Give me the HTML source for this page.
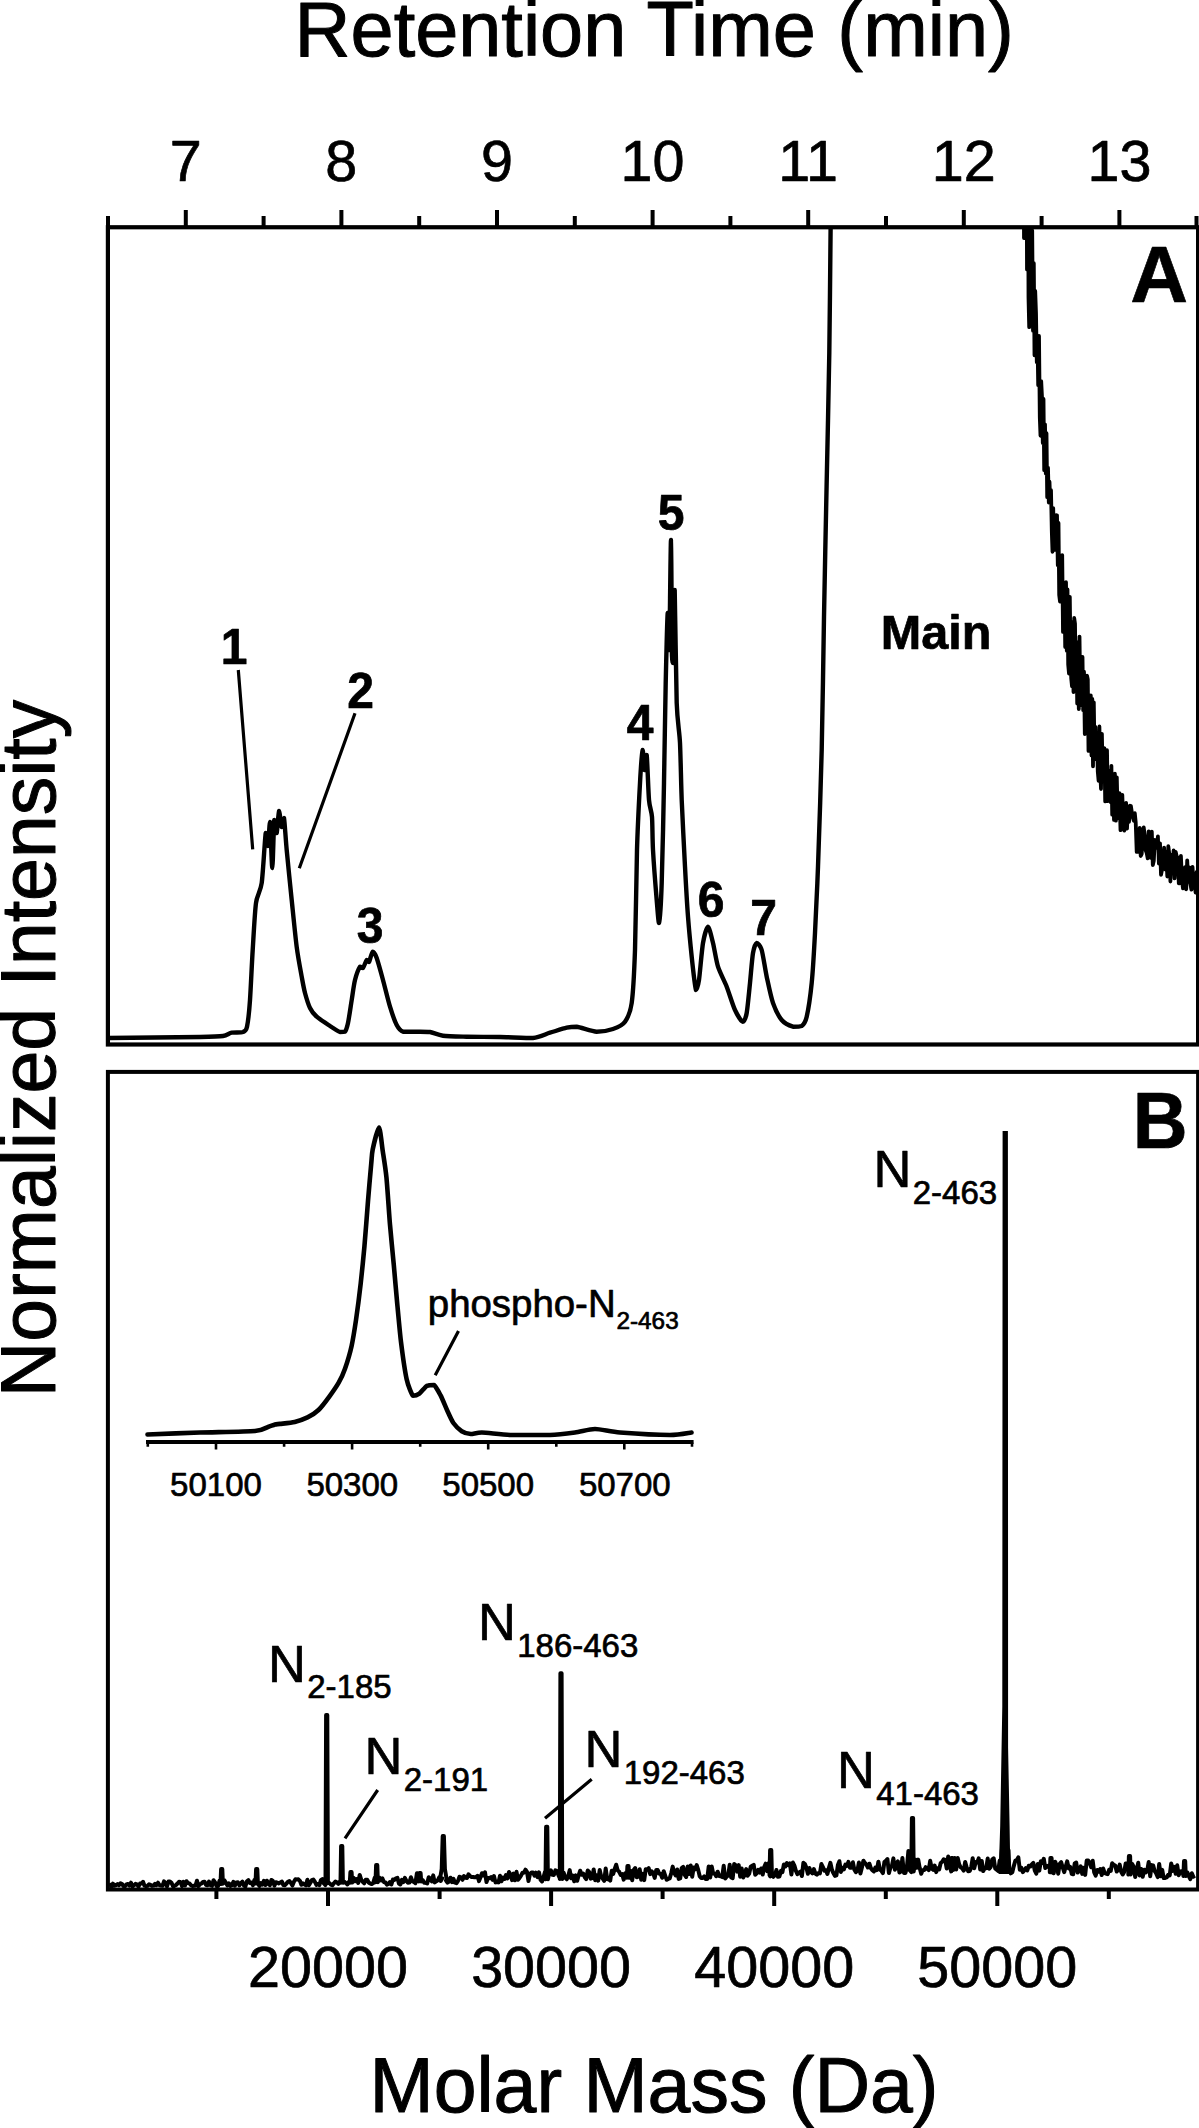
<!DOCTYPE html>
<html lang="en"><head><meta charset="utf-8"><title>Figure</title>
<style>html,body{margin:0;padding:0;background:#fff}body{width:1199px;height:2128px;overflow:hidden}svg{display:block}text{font-family:"Liberation Sans",sans-serif;fill:#000;stroke:#000;stroke-width:0.7px;stroke-linejoin:round}.big{stroke-width:1px}.b{font-weight:bold}</style></head><body>
<svg width="1199" height="2128" viewBox="0 0 1199 2128">
<rect width="1199" height="2128" fill="#fff"/>
<text class="big" x="654.2" y="56" font-size="77.5" text-anchor="middle">Retention Time (min)</text>
<text class="big" x="654" y="2111.5" font-size="77" text-anchor="middle">Molar Mass (Da)</text>
<text class="big" transform="translate(55,1048.5) rotate(-90)" font-size="77" text-anchor="middle">Normalized Intensity</text>
<text x="185.7" y="181" font-size="57.5" text-anchor="middle">7</text>
<text x="341.3" y="181" font-size="57.5" text-anchor="middle">8</text>
<text x="497.0" y="181" font-size="57.5" text-anchor="middle">9</text>
<text x="652.6" y="181" font-size="57.5" text-anchor="middle">10</text>
<text x="808.2" y="181" font-size="57.5" text-anchor="middle">11</text>
<text x="963.8" y="181" font-size="57.5" text-anchor="middle">12</text>
<text x="1119.5" y="181" font-size="57.5" text-anchor="middle">13</text>
<path d="M108.0,216V227 M185.8,210V227 M263.6,216V227 M341.4,210V227 M419.2,216V227 M497.0,210V227 M574.8,216V227 M652.6,210V227 M730.4,216V227 M808.2,210V227 M886.0,216V227 M963.8,210V227 M1041.6,216V227 M1119.4,210V227 M1196.5,216V227" stroke="#000" stroke-width="4" fill="none"/>
<rect x="107.9" y="227.25" width="1090.2" height="817.25" fill="none" stroke="#000" stroke-width="4.2"/>
<rect x="107.9" y="1071.9" width="1090.2" height="817.6" fill="none" stroke="#000" stroke-width="4"/>
<path d="M216.4,1889V1899 M328.0,1889V1906 M439.6,1889V1899 M551.1,1889V1906 M662.6,1889V1899 M774.2,1889V1906 M885.8,1889V1899 M997.3,1889V1906 M1108.8,1889V1899" stroke="#000" stroke-width="4" fill="none"/>
<text x="328.0" y="1986.5" font-size="57.5" text-anchor="middle">20000</text>
<text x="551.1" y="1986.5" font-size="57.5" text-anchor="middle">30000</text>
<text x="774.2" y="1986.5" font-size="57.5" text-anchor="middle">40000</text>
<text x="997.3" y="1986.5" font-size="57.5" text-anchor="middle">50000</text>
<clipPath id="ca"><rect x="108" y="227" width="1089" height="817"/></clipPath>
<g clip-path="url(#ca)" fill="none" stroke="#000" stroke-linejoin="round" stroke-linecap="round"><path d="M108.0,1038.0C120.0,1037.9 185.1,1037.3 200.0,1037.0C214.9,1036.7 218.9,1036.6 223.0,1036.0C227.1,1035.4 229.1,1033.2 231.7,1032.7C234.3,1032.2 241.0,1032.7 243.0,1032.0C245.0,1031.2 246.1,1030.9 247.0,1026.7C247.9,1022.5 249.3,1010.0 250.0,1000.0C250.7,990.0 251.9,962.6 252.7,950.0C253.5,937.4 254.8,911.7 256.0,903.0C257.2,894.3 260.4,892.1 261.7,883.0C263.0,873.9 264.9,837.8 265.7,833.0C266.5,833.0 267.4,846.0 268.0,846.0C268.6,844.6 269.4,822.0 270.0,822.0C270.6,824.9 271.7,868.0 272.3,868.0C272.9,867.7 273.7,824.5 274.3,820.0C274.9,820.0 276.1,833.0 276.7,833.0C277.3,831.8 278.4,811.8 279.0,811.0C279.6,811.0 281.1,826.1 281.7,827.0C282.3,827.0 283.4,818.0 284.0,818.0C284.6,821.0 285.7,839.3 286.7,850.0C287.7,860.7 290.4,887.4 291.7,900.0C293.0,912.6 295.4,937.0 296.7,947.0C298.0,957.0 300.6,970.7 301.7,976.7C302.8,982.7 303.9,988.9 305.0,993.0C306.1,997.1 308.5,1004.9 310.0,1008.0C311.5,1011.1 314.1,1014.4 316.7,1016.7C319.3,1019.0 327.0,1024.0 330.0,1026.0C333.0,1028.0 338.1,1031.3 340.0,1032.0C341.9,1032.0 344.0,1032.0 345.0,1031.7C346.0,1030.5 347.1,1027.1 348.0,1023.0C348.9,1018.9 350.8,1005.6 351.7,1000.0C352.6,994.4 353.9,984.3 355.0,980.0C356.1,975.7 359.0,968.3 360.0,966.7C361.0,966.7 362.1,968.0 363.0,968.0C363.9,967.1 365.9,960.8 366.7,960.0C367.5,960.0 368.2,962.0 369.0,962.0C369.8,960.9 371.7,952.2 372.7,951.7C373.7,951.7 375.4,954.3 376.7,958.0C378.0,961.7 381.3,973.7 383.0,980.0C384.7,986.3 388.2,1000.9 390.0,1006.7C391.8,1012.6 395.0,1021.8 396.7,1025.0C398.4,1028.2 400.0,1030.8 403.0,1031.7C406.0,1031.7 416.5,1031.7 420.0,1031.7C423.5,1031.7 427.0,1031.7 430.0,1032.0C433.0,1032.5 438.2,1035.1 443.0,1035.7C447.8,1036.3 459.3,1036.5 466.7,1036.7C474.1,1036.9 491.4,1036.8 500.0,1037.0C508.6,1037.2 526.5,1038.0 533.0,1038.0C539.5,1037.4 545.6,1034.0 550.0,1032.7C554.4,1031.4 563.2,1028.5 566.7,1027.7C570.2,1026.9 572.8,1026.7 576.7,1026.7C580.6,1027.2 592.0,1031.4 596.7,1031.7C601.4,1031.7 609.3,1030.3 613.0,1029.0C616.7,1027.7 622.6,1025.1 625.0,1021.7C627.4,1018.3 630.4,1012.3 631.7,1003.0C633.0,993.7 634.3,969.9 635.0,950.0C635.7,930.1 636.4,871.7 637.0,850.0C637.6,828.3 639.3,796.0 640.0,783.0C640.7,770.0 642.1,751.7 642.7,750.0C643.3,750.0 644.0,769.4 644.5,770.0C645.0,770.0 646.1,755.0 646.7,755.0C647.3,758.9 648.3,791.9 649.0,800.0C649.7,808.1 651.5,810.5 652.0,817.0C652.5,823.5 652.4,839.2 653.0,850.0C653.6,860.8 655.9,890.5 656.7,900.0C657.5,909.5 658.4,923.0 659.0,923.0C659.6,920.8 661.1,901.2 661.7,883.0C662.4,864.8 663.5,809.0 664.0,783.0C664.5,757.0 665.2,705.1 665.7,683.0C666.2,660.9 667.2,617.3 667.7,613.0C668.2,613.0 668.9,650.0 669.3,650.0C669.7,640.5 670.6,540.0 671.0,540.0C671.4,540.8 671.7,640.0 672.0,656.0C672.3,663.0 672.9,663.0 673.3,663.0C673.7,654.4 674.3,590.0 674.7,590.0C675.1,595.2 676.0,683.1 676.7,703.0C677.4,722.9 679.4,730.4 680.0,743.0C680.6,755.6 681.1,783.9 681.7,800.0C682.4,816.1 684.2,851.5 685.0,866.7C685.8,881.9 687.1,905.0 688.0,916.7C688.9,928.4 690.7,947.2 691.7,956.7C692.7,966.2 695.1,987.0 696.0,990.0C696.9,990.0 698.1,986.1 699.0,980.0C699.9,973.9 701.8,949.9 703.0,943.0C704.2,936.1 706.7,926.7 708.0,926.7C709.3,926.7 711.7,937.8 713.0,943.0C714.3,948.2 716.2,961.0 718.0,966.7C719.8,972.4 724.5,981.1 726.7,986.7C728.9,992.3 732.9,1005.5 735.0,1010.0C737.1,1014.5 741.2,1021.3 742.7,1021.7C744.2,1021.7 745.8,1018.0 746.7,1013.0C747.6,1008.0 749.2,990.8 750.0,983.0C750.8,975.2 752.1,958.2 753.0,953.0C753.9,947.8 755.6,943.4 756.7,943.0C757.8,943.0 760.4,945.6 761.7,950.0C763.0,954.4 765.2,969.8 766.7,976.7C768.2,983.6 771.0,997.4 773.0,1003.0C775.0,1008.6 779.1,1016.9 781.7,1020.0C784.3,1023.1 790.4,1025.9 793.0,1026.7C795.6,1026.7 799.9,1026.7 801.7,1026.0C803.5,1024.7 805.4,1022.3 806.7,1016.7C808.0,1011.1 810.6,993.9 811.7,983.0C812.8,972.1 814.2,948.1 815.0,933.0C815.8,917.9 817.1,890.5 818.0,866.7C818.9,842.9 820.9,782.5 821.7,750.0C822.5,717.5 823.4,651.0 824.0,616.7C824.6,582.4 825.9,520.3 826.6,486.0C827.3,451.7 828.8,386.4 829.3,353.0C829.8,319.6 830.4,245.1 830.6,229.0" stroke-width="4.4"/><path d="M1018.0,-111.5 L1018.8,101.9 L1019.5,-178.5 L1020.2,77.2 L1021.0,97.1 L1021.8,-115.7 L1022.5,151.7 L1023.2,15.6 L1024.0,238.0 L1024.8,-3.6 L1025.5,184.1 L1026.2,28.9 L1027.0,269.6 L1027.8,54.3 L1028.5,297.3 L1029.2,327.1 L1030.0,282.0 L1030.8,197.1 L1031.5,322.3 L1032.2,230.5 L1033.0,330.8 L1033.8,263.2 L1034.5,355.3 L1035.2,290.8 L1036.0,313.4 L1036.8,362.2 L1037.5,339.4 L1038.2,385.1 L1039.0,335.9 L1039.8,417.4 L1040.5,435.8 L1041.2,381.2 L1042.0,397.0 L1042.8,443.0 L1043.5,399.0 L1044.2,470.2 L1045.0,424.3 L1045.8,473.5 L1046.5,433.2 L1047.2,497.2 L1048.0,467.7 L1048.8,502.5 L1049.5,481.7 L1050.2,502.3 L1051.0,490.2 L1051.8,531.1 L1052.5,551.8 L1053.2,508.1 L1054.0,543.0 L1054.8,519.0 L1055.5,549.9 L1056.2,515.2 L1057.0,515.3 L1057.8,565.1 L1058.5,522.9 L1059.2,595.1 L1060.0,601.6 L1060.8,556.0 L1061.5,581.9 L1062.2,555.1 L1063.0,631.9 L1063.8,620.9 L1064.5,585.3 L1065.2,647.1 L1066.0,582.2 L1066.8,650.8 L1067.5,589.5 L1068.2,664.7 L1069.0,673.7 L1069.8,596.8 L1070.5,655.7 L1071.2,678.2 L1072.0,686.3 L1072.8,622.0 L1073.5,692.1 L1074.2,617.9 L1075.0,623.8 L1075.8,681.4 L1076.5,645.2 L1077.2,703.6 L1078.0,642.1 L1078.8,709.0 L1079.5,636.6 L1080.2,689.8 L1081.0,657.7 L1081.8,705.3 L1082.5,657.0 L1083.2,710.1 L1084.0,671.7 L1084.8,734.1 L1085.5,679.2 L1086.2,729.1 L1087.0,675.7 L1087.8,679.5 L1088.5,750.9 L1089.2,705.9 L1090.0,738.7 L1090.8,695.4 L1091.5,755.4 L1092.3,698.9 L1093.0,766.3 L1093.8,702.3 L1094.6,759.1 L1095.4,727.0 L1096.2,755.0 L1096.9,737.1 L1097.8,771.9 L1098.6,780.9 L1099.4,726.5 L1100.2,771.3 L1101.0,789.0 L1101.9,733.9 L1102.7,777.6 L1103.5,750.1 L1104.4,748.2 L1105.2,801.4 L1106.1,795.1 L1107.0,750.2 L1107.8,801.1 L1108.7,770.7 L1109.6,800.4 L1110.5,801.9 L1111.4,765.8 L1112.2,814.6 L1113.1,775.8 L1114.0,819.9 L1114.9,773.7 L1115.9,820.6 L1116.8,777.3 L1117.7,818.1 L1118.6,793.9 L1119.5,793.2 L1120.5,830.2 L1121.4,821.6 L1122.3,794.8 L1123.3,824.2 L1124.2,830.6 L1125.1,827.8 L1126.1,802.8 L1127.0,828.6 L1128.0,807.9 L1129.0,821.8 L1129.9,805.7 L1130.9,806.1 L1131.8,812.1 L1132.8,817.5 L1133.8,820.7 L1134.8,813.2 L1135.7,822.3 L1136.7,851.9 L1137.7,849.2 L1138.7,851.8 L1139.7,827.8 L1140.7,856.0 L1141.7,853.9 L1142.7,833.3 L1143.7,827.3 L1144.7,834.9 L1145.7,850.3 L1146.7,853.2 L1147.7,858.3 L1148.7,831.3 L1149.7,832.9 L1150.7,857.8 L1151.8,831.6 L1152.8,865.0 L1153.8,860.7 L1154.8,840.0 L1155.9,844.5 L1156.9,847.8 L1157.9,836.3 L1158.9,863.7 L1160.0,843.3 L1161.0,874.8 L1162.0,869.9 L1163.1,867.1 L1164.1,847.7 L1165.2,869.5 L1166.2,851.9 L1167.3,876.5 L1168.3,846.2 L1169.4,854.8 L1170.4,881.5 L1171.5,854.8 L1172.5,872.2 L1173.6,850.5 L1174.6,878.4 L1175.7,851.8 L1176.7,856.3 L1177.8,858.0 L1178.8,883.4 L1179.9,882.9 L1180.9,855.8 L1182.0,880.7 L1183.0,888.4 L1184.1,881.4 L1185.1,867.2 L1186.2,889.3 L1187.2,860.3 L1188.3,881.8 L1189.3,867.5 L1190.4,883.9 L1191.4,889.7 L1192.5,866.9 L1193.5,883.0 L1194.6,884.1 L1195.6,892.5 L1196.7,871.8 L1197.7,894.2 L1198.8,878.4" stroke-width="3.8"/></g>
<path d="M238.3,670L252.7,849.3M355,713.3L299.3,868.3" stroke="#000" stroke-width="3.2" fill="none"/>
<text class="b" transform="translate(234,663.5) scale(1,1.06)" font-size="48" text-anchor="middle">1</text>
<text class="b" transform="translate(360.5,707.5) scale(1,1.06)" font-size="48" text-anchor="middle">2</text>
<text class="b" transform="translate(370,942.5) scale(1,1.06)" font-size="48" text-anchor="middle">3</text>
<text class="b" transform="translate(640,739.5) scale(1,1.06)" font-size="48" text-anchor="middle">4</text>
<text class="b" transform="translate(671,529.7) scale(1,1.06)" font-size="48" text-anchor="middle">5</text>
<text class="b" transform="translate(711,916.5) scale(1,1.06)" font-size="48" text-anchor="middle">6</text>
<text class="b" transform="translate(763.5,934.5) scale(1,1.06)" font-size="48" text-anchor="middle">7</text>
<text class="b" transform="translate(936.1,648.5) scale(1,1.0)" font-size="48.6" text-anchor="middle">Main</text>
<text class="b" transform="translate(1159.2,302.4) scale(1,1.0)" font-size="80" text-anchor="middle">A</text>
<text class="b" transform="translate(1160.1,1147.6) scale(1,1.055)" font-size="76" text-anchor="middle">B</text>
<clipPath id="cb"><rect x="108" y="1071" width="1089" height="818"/></clipPath>
<g clip-path="url(#cb)" fill="none" stroke="#000" stroke-linejoin="round"><path d="M110.0,1883.0 L111.5,1886.9 L113.0,1883.7 L114.5,1885.8 L116.0,1885.1 L117.5,1884.0 L119.0,1885.3 L120.5,1883.2 L122.0,1884.0 L123.5,1886.2 L125.0,1886.2 L126.5,1884.4 L128.0,1883.9 L129.5,1885.6 L131.0,1882.7 L132.5,1886.5 L134.0,1885.3 L135.5,1883.8 L137.0,1884.3 L138.5,1886.6 L140.0,1883.5 L141.5,1883.4 L143.0,1881.8 L144.5,1885.7 L146.0,1886.2 L147.5,1885.9 L149.0,1884.2 L150.5,1884.9 L152.0,1885.9 L153.5,1885.6 L155.0,1883.8 L156.5,1885.2 L158.0,1882.7 L159.5,1885.1 L161.0,1885.6 L162.5,1885.8 L164.0,1881.4 L165.5,1882.9 L167.0,1886.5 L168.5,1881.6 L170.0,1881.6 L171.5,1882.8 L173.0,1886.1 L174.5,1885.9 L176.0,1885.0 L177.5,1883.5 L179.0,1881.8 L180.5,1881.9 L182.0,1886.2 L183.5,1881.9 L185.0,1885.5 L186.5,1881.2 L188.0,1883.1 L189.5,1883.4 L191.0,1885.3 L192.5,1886.0 L194.0,1885.8 L195.5,1885.6 L197.0,1880.7 L198.5,1886.1 L200.0,1884.2 L201.5,1883.5 L203.0,1882.0 L204.5,1881.7 L206.0,1885.0 L207.5,1885.2 L209.0,1881.6 L210.5,1885.1 L212.0,1885.8 L213.5,1880.3 L215.0,1882.2 L216.5,1886.0 L218.0,1886.1 L219.5,1880.9 L221.0,1884.0 L220.5,1883.7 L221.1,1869.0 L222.3,1869.0 L222.9,1883.7 L224.4,1880.4 L225.9,1882.8 L227.4,1885.4 L228.9,1883.3 L230.4,1886.0 L231.9,1885.3 L233.4,1881.8 L234.9,1885.7 L236.4,1882.4 L237.9,1882.3 L239.4,1885.3 L240.9,1883.1 L242.4,1881.6 L243.9,1885.6 L245.4,1886.5 L246.9,1881.3 L248.4,1880.2 L249.9,1883.0 L251.4,1882.6 L252.9,1885.3 L254.4,1880.1 L255.9,1881.8 L255.5,1883.5 L256.1,1869.0 L257.3,1869.0 L257.9,1883.5 L259.4,1886.0 L260.9,1883.1 L262.4,1884.6 L263.9,1880.8 L265.4,1885.0 L266.9,1880.7 L268.4,1884.0 L269.9,1885.2 L271.4,1880.0 L272.9,1881.0 L274.4,1885.6 L275.9,1882.2 L277.4,1882.6 L278.9,1883.5 L280.4,1882.4 L281.9,1881.6 L283.4,1885.1 L284.9,1885.3 L286.4,1883.6 L287.9,1881.8 L289.4,1881.1 L290.9,1883.0 L292.4,1885.6 L293.9,1881.7 L295.4,1879.3 L296.9,1879.5 L298.4,1879.3 L299.9,1880.8 L301.4,1884.8 L302.9,1883.4 L304.4,1884.5 L305.9,1885.3 L307.4,1879.7 L308.9,1885.3 L310.4,1882.8 L311.9,1880.1 L313.4,1879.5 L314.9,1881.8 L316.4,1884.9 L317.9,1884.0 L319.4,1885.1 L320.9,1880.1 L322.4,1879.0 L323.9,1883.5 L325.4,1885.1 L325.5,1883.0 L326.1,1715.0 L327.3,1715.0 L327.9,1883.0 L329.4,1883.0 L330.9,1884.6 L332.4,1885.3 L333.9,1883.3 L335.4,1881.6 L336.9,1882.3 L338.4,1883.9 L339.9,1881.7 L341.4,1878.8 L340.5,1882.8 L341.1,1846.0 L342.3,1846.0 L342.9,1882.8 L344.4,1881.7 L345.9,1883.1 L347.4,1884.4 L348.9,1881.9 L350.4,1881.3 L349.8,1882.6 L350.4,1872.0 L351.6,1872.0 L352.2,1882.6 L353.7,1877.9 L355.2,1881.2 L356.7,1879.0 L358.2,1883.0 L359.7,1874.9 L361.2,1879.7 L362.7,1881.9 L364.2,1883.3 L365.7,1879.8 L367.2,1879.7 L368.7,1882.5 L370.2,1883.5 L371.7,1884.1 L373.2,1883.1 L374.7,1877.7 L376.2,1877.8 L375.5,1882.2 L376.1,1865.0 L377.3,1865.0 L377.9,1882.2 L379.4,1877.7 L380.9,1880.4 L382.4,1878.4 L383.9,1882.0 L385.4,1882.5 L386.9,1884.6 L388.4,1884.0 L389.9,1882.0 L391.4,1884.5 L392.9,1879.5 L394.4,1880.0 L395.9,1878.3 L397.4,1877.8 L398.9,1883.5 L400.4,1884.5 L401.9,1879.9 L403.4,1882.1 L404.9,1877.9 L406.4,1880.9 L407.9,1882.7 L409.4,1882.6 L410.9,1877.2 L412.4,1881.2 L413.9,1882.0 L415.4,1883.2 L416.9,1873.2 L418.4,1873.7 L419.9,1880.7 L418.8,1881.4 L419.4,1873.0 L420.6,1873.0 L421.2,1881.4 L422.7,1880.1 L424.2,1882.7 L425.7,1882.8 L427.2,1883.4 L428.7,1877.3 L430.2,1878.6 L431.7,1881.4 L433.2,1875.4 L434.7,1882.4 L436.2,1881.4 L437.7,1880.3 L439.2,1877.3 L440.7,1881.0 L442.2,1878.3 L439.8,1880.0 L441.7,1869.0 L442.7,1836.0 L443.9,1836.0 L444.9,1869.0 L446.8,1880.0 L446.0,1880.5 L447.5,1882.7 L449.0,1881.6 L450.5,1877.7 L452.0,1882.2 L453.5,1878.9 L455.0,1882.7 L456.5,1883.2 L458.0,1880.9 L459.5,1876.7 L461.0,1877.4 L462.5,1879.8 L464.0,1876.1 L465.5,1877.7 L467.0,1877.9 L468.5,1874.3 L470.0,1876.1 L471.5,1876.9 L473.0,1877.0 L474.5,1877.3 L476.0,1877.0 L477.5,1875.8 L479.0,1881.1 L480.5,1877.3 L482.0,1873.2 L483.5,1875.3 L485.0,1872.4 L486.5,1882.1 L488.0,1877.9 L489.5,1878.2 L491.0,1877.2 L492.5,1879.8 L494.0,1876.1 L495.5,1882.4 L497.0,1882.1 L498.5,1882.4 L500.0,1875.7 L501.5,1881.2 L503.0,1877.5 L504.5,1879.0 L506.0,1875.0 L507.5,1878.4 L509.0,1872.0 L510.5,1874.3 L512.0,1880.1 L513.5,1873.6 L515.0,1880.2 L516.5,1871.8 L518.0,1879.8 L519.5,1877.9 L521.0,1875.6 L522.5,1872.7 L524.0,1872.7 L525.5,1869.7 L527.0,1871.9 L528.5,1881.1 L530.0,1873.9 L531.5,1872.5 L533.0,1872.5 L534.5,1875.7 L536.0,1872.7 L537.5,1877.2 L539.0,1872.3 L540.5,1879.7 L542.0,1881.5 L543.5,1877.3 L545.0,1871.9 L546.5,1877.5 L545.5,1879.2 L546.1,1826.7 L547.3,1826.7 L547.9,1879.2 L549.4,1872.4 L550.9,1870.4 L552.4,1874.8 L553.9,1875.0 L555.4,1870.3 L556.9,1871.0 L558.4,1875.1 L559.9,1878.3 L559.8,1879.0 L560.4,1673.3 L561.6,1673.3 L562.2,1879.0 L563.7,1872.8 L565.2,1877.6 L566.7,1879.3 L568.2,1876.3 L569.7,1870.1 L571.2,1878.3 L572.7,1875.5 L574.2,1881.2 L575.7,1875.4 L577.2,1880.8 L578.7,1875.1 L580.2,1870.7 L581.7,1874.8 L583.2,1873.5 L584.7,1877.0 L586.2,1879.2 L587.7,1870.5 L589.2,1871.9 L590.7,1878.6 L592.2,1878.1 L593.7,1869.4 L595.2,1880.3 L596.7,1875.3 L598.2,1880.6 L599.7,1870.0 L601.2,1876.5 L602.7,1878.7 L604.2,1880.8 L605.7,1868.5 L607.2,1879.3 L608.7,1878.9 L610.2,1880.6 L611.7,1870.7 L613.2,1873.9 L614.7,1868.9 L616.2,1864.7 L617.7,1870.4 L619.2,1871.8 L620.7,1875.0 L622.2,1874.2 L623.7,1879.6 L625.2,1873.3 L626.7,1876.9 L626.8,1877.8 L627.4,1866.0 L628.6,1866.0 L629.2,1877.8 L630.7,1871.0 L632.2,1880.3 L633.7,1870.0 L635.2,1868.1 L636.7,1877.3 L638.2,1876.7 L639.7,1869.2 L641.2,1879.8 L642.7,1873.9 L644.2,1880.1 L645.7,1869.3 L647.2,1869.7 L648.7,1868.2 L650.2,1874.1 L651.7,1871.3 L653.2,1873.2 L654.7,1877.9 L656.2,1870.1 L657.7,1870.1 L659.2,1873.6 L660.7,1874.0 L662.2,1877.8 L663.7,1871.2 L665.2,1875.6 L666.7,1879.8 L668.2,1879.0 L669.7,1878.4 L671.2,1873.3 L672.7,1866.6 L674.2,1872.8 L675.7,1875.5 L677.2,1869.5 L678.7,1878.9 L680.2,1878.4 L681.7,1868.0 L683.2,1866.9 L684.7,1874.8 L686.2,1877.0 L687.7,1866.5 L689.2,1874.0 L690.7,1865.4 L692.2,1876.7 L693.7,1867.4 L695.2,1869.3 L696.7,1865.1 L698.2,1869.9 L699.7,1876.2 L701.2,1878.1 L702.7,1878.0 L704.2,1876.4 L705.7,1879.0 L707.2,1879.1 L708.7,1866.4 L710.2,1877.6 L711.7,1866.4 L713.2,1873.6 L714.7,1873.4 L716.2,1876.2 L717.7,1871.7 L719.2,1876.0 L720.7,1876.3 L722.2,1877.1 L723.7,1865.7 L725.2,1878.5 L726.7,1876.5 L728.2,1875.6 L729.7,1864.8 L731.2,1877.4 L732.7,1878.1 L734.2,1863.9 L735.7,1865.2 L737.2,1871.6 L738.7,1865.1 L740.2,1876.7 L741.7,1868.5 L743.2,1877.5 L744.7,1875.0 L746.2,1869.1 L747.7,1875.7 L749.2,1873.6 L750.7,1866.7 L752.2,1865.8 L753.7,1864.9 L755.2,1874.8 L756.7,1873.4 L758.2,1869.8 L759.7,1872.6 L761.2,1868.5 L762.7,1874.5 L764.2,1867.0 L765.7,1863.7 L767.2,1871.1 L768.7,1863.1 L770.2,1876.4 L769.5,1874.9 L770.1,1850.0 L771.3,1850.0 L771.9,1874.9 L773.4,1876.8 L774.9,1875.1 L776.4,1870.0 L777.9,1876.8 L779.4,1876.6 L780.9,1870.9 L782.4,1872.2 L783.9,1864.4 L785.4,1866.5 L786.9,1863.1 L788.4,1865.1 L789.9,1863.4 L791.4,1874.4 L792.9,1862.5 L794.4,1865.6 L795.9,1870.9 L797.4,1874.2 L798.9,1872.7 L800.4,1871.6 L801.9,1876.0 L803.4,1862.8 L804.9,1864.0 L806.4,1867.8 L807.9,1873.8 L809.4,1868.0 L810.9,1871.8 L812.4,1873.3 L813.9,1869.1 L815.4,1873.6 L816.9,1874.7 L818.4,1873.1 L819.9,1873.4 L821.4,1864.0 L822.9,1867.1 L824.4,1870.6 L825.9,1870.2 L827.4,1874.0 L828.9,1867.8 L830.4,1862.9 L831.9,1869.6 L833.4,1873.1 L834.9,1875.9 L836.4,1875.4 L837.9,1865.0 L839.4,1861.2 L840.9,1871.9 L842.4,1867.7 L843.9,1869.3 L845.4,1864.6 L846.9,1866.0 L848.4,1861.9 L849.9,1867.7 L851.4,1867.8 L852.9,1862.3 L854.4,1869.8 L855.9,1872.2 L857.4,1870.7 L858.9,1862.5 L860.4,1873.4 L861.9,1867.6 L863.4,1860.7 L864.9,1863.0 L866.4,1864.5 L867.9,1867.5 L869.4,1863.7 L870.9,1868.3 L872.4,1870.2 L873.9,1871.4 L875.4,1867.6 L876.9,1870.1 L878.4,1861.7 L879.9,1869.5 L881.4,1870.9 L882.9,1873.1 L884.4,1862.1 L885.9,1860.8 L887.4,1859.0 L888.9,1873.1 L890.4,1867.6 L891.9,1865.8 L893.4,1858.4 L894.9,1869.7 L896.4,1863.9 L897.9,1861.4 L899.4,1872.5 L900.9,1871.6 L902.4,1858.0 L903.9,1872.9 L905.4,1873.0 L906.9,1867.4 L908.4,1851.0 L909.9,1870.5 L911.4,1872.1 L911.3,1871.5 L911.9,1818.0 L913.1,1818.0 L913.7,1871.5 L915.2,1859.4 L916.7,1867.8 L918.2,1859.6 L919.7,1868.1 L921.2,1873.8 L922.7,1870.3 L924.2,1870.1 L925.7,1867.2 L927.2,1868.7 L928.7,1870.1 L930.2,1860.8 L931.7,1868.5 L933.2,1869.9 L934.7,1865.6 L936.2,1872.1 L937.7,1868.4 L939.2,1869.4 L940.7,1863.0 L942.2,1861.8 L943.7,1859.3 L945.2,1859.9 L946.7,1868.5 L948.2,1856.6 L949.7,1865.4 L951.2,1871.4 L950.8,1869.9 L951.4,1858.0 L952.6,1858.0 L953.2,1869.9 L954.7,1857.9 L956.2,1869.6 L957.7,1857.9 L959.2,1864.4 L960.7,1867.4 L962.2,1868.3 L963.7,1870.6 L965.2,1861.9 L966.7,1867.5 L968.2,1871.2 L969.7,1871.0 L971.2,1867.2 L972.7,1858.2 L974.2,1868.3 L975.7,1862.0 L977.2,1862.4 L978.7,1858.4 L980.2,1869.6 L981.7,1860.9 L983.2,1871.1 L984.7,1868.1 L986.2,1868.2 L987.7,1858.6 L989.2,1868.8 L990.7,1866.9 L992.2,1859.6 L993.7,1858.3 L995.2,1868.5 L996.7,1869.8 L998.2,1871.0 L999.7,1860.6 L1001.2,1871.3 L1002.7,1857.0 L1004.2,1859.1 L999.3,1871.3 L1000.8,1868.0 L1001.8,1850.0 L1008.5,1850.0 L1009.3,1870.0 L1010.8,1873.3 L1012.3,1872.2 L1013.8,1866.1 L1015.3,1860.7 L1016.8,1860.2 L1018.3,1857.3 L1019.8,1869.8 L1021.3,1867.6 L1022.8,1872.2 L1024.3,1870.5 L1025.8,1868.2 L1027.3,1870.5 L1028.8,1865.7 L1030.3,1866.5 L1031.8,1864.3 L1033.3,1862.8 L1034.8,1870.7 L1036.3,1873.6 L1037.8,1864.0 L1039.3,1870.6 L1040.8,1861.2 L1042.3,1862.9 L1043.8,1858.8 L1045.3,1868.1 L1046.8,1866.8 L1048.3,1865.6 L1049.8,1865.2 L1049.8,1872.3 L1050.4,1858.0 L1051.6,1858.0 L1052.2,1872.3 L1053.7,1873.2 L1055.2,1861.7 L1056.7,1866.2 L1058.2,1873.7 L1059.7,1863.8 L1061.2,1862.2 L1062.7,1867.5 L1064.2,1872.2 L1065.7,1866.6 L1067.2,1861.4 L1068.7,1868.4 L1070.2,1866.9 L1071.7,1873.8 L1073.2,1874.3 L1074.7,1863.4 L1076.2,1862.5 L1077.7,1872.6 L1079.2,1870.2 L1080.7,1866.4 L1082.2,1873.9 L1083.7,1867.9 L1085.2,1874.9 L1086.7,1860.6 L1088.2,1860.6 L1089.7,1863.1 L1091.2,1867.2 L1092.7,1860.7 L1094.2,1872.5 L1095.7,1875.6 L1097.2,1870.0 L1098.7,1871.7 L1100.2,1869.1 L1101.7,1875.0 L1103.2,1868.5 L1104.7,1873.2 L1106.2,1873.7 L1107.7,1874.1 L1109.2,1869.7 L1110.7,1871.0 L1112.2,1863.2 L1113.7,1864.9 L1115.2,1865.6 L1116.7,1871.5 L1118.2,1869.3 L1119.7,1864.6 L1121.2,1871.8 L1122.7,1874.5 L1124.2,1871.9 L1125.7,1863.4 L1127.2,1863.1 L1128.7,1873.3 L1128.3,1874.5 L1128.9,1856.0 L1130.1,1856.0 L1130.7,1874.5 L1132.2,1864.1 L1133.7,1866.7 L1135.2,1877.0 L1136.7,1870.1 L1138.2,1862.8 L1139.7,1875.4 L1141.2,1869.0 L1142.7,1876.8 L1144.2,1869.7 L1145.7,1872.5 L1147.2,1870.5 L1148.7,1862.0 L1150.2,1876.2 L1151.7,1865.1 L1153.2,1865.4 L1154.7,1871.2 L1156.2,1873.4 L1157.7,1877.1 L1159.2,1864.0 L1160.7,1876.2 L1162.2,1869.9 L1163.7,1878.1 L1165.2,1877.9 L1166.7,1877.4 L1168.2,1874.9 L1169.7,1875.4 L1171.2,1863.5 L1172.7,1870.9 L1174.2,1866.9 L1175.7,1873.8 L1177.2,1865.3 L1178.7,1875.3 L1180.2,1871.9 L1181.7,1871.0 L1183.2,1874.5 L1183.4,1876.1 L1184.0,1861.0 L1185.2,1861.0 L1185.8,1876.1 L1187.3,1872.3 L1188.8,1876.1 L1190.3,1879.1 L1191.8,1873.2 L1193.3,1876.8 L1194.8,1875.6" stroke-width="4"/></g>
<path d="M998.6,1874L1000.2,1826L1002.3,1706L1002.6,1131H1007.9L1008.1,1748L1009.6,1826L1010.4,1874Z" fill="#000"/>
<path d="M147.5,1434.5C153.8,1434.3 187.1,1432.9 200.0,1432.5C212.9,1432.1 246.8,1431.7 255.0,1431.0C263.2,1430.3 265.6,1427.8 268.0,1427.0C270.4,1426.2 273.6,1424.9 275.0,1424.5C276.4,1424.1 277.6,1424.2 280.0,1423.9C282.4,1423.6 291.4,1422.8 294.7,1422.0C298.0,1421.2 304.6,1418.8 307.5,1417.4C310.4,1416.0 315.9,1412.5 318.5,1410.0C321.1,1407.5 327.1,1399.6 329.5,1396.3C331.9,1393.0 336.8,1385.9 338.7,1382.6C340.6,1379.3 343.5,1373.2 345.0,1368.8C346.5,1364.4 350.3,1351.8 351.6,1345.9C352.9,1340.0 354.9,1327.5 356.0,1320.0C357.1,1312.5 359.7,1292.3 360.7,1283.5C361.7,1274.7 363.5,1256.7 364.4,1246.8C365.3,1236.9 367.2,1210.9 368.0,1201.0C368.8,1191.1 370.6,1170.2 371.2,1164.0C371.8,1157.8 371.8,1153.9 372.7,1149.5C373.6,1145.1 377.8,1127.5 379.0,1127.5C380.2,1127.7 381.9,1145.5 382.8,1151.4C383.7,1157.3 385.5,1168.2 386.4,1177.0C387.3,1185.8 389.1,1214.2 390.0,1224.8C390.9,1235.4 392.9,1255.3 393.8,1265.0C394.7,1274.7 396.5,1296.3 397.4,1305.5C398.3,1314.7 399.9,1333.2 401.0,1342.0C402.1,1350.8 405.2,1372.5 406.6,1379.0C408.0,1385.5 411.5,1394.0 413.0,1395.8C414.5,1395.8 417.7,1394.8 419.4,1393.6C421.1,1392.4 425.0,1386.9 426.8,1385.9C428.6,1385.0 432.3,1385.0 434.0,1385.0C435.7,1386.1 439.0,1392.4 440.6,1395.4C442.2,1398.4 445.5,1406.7 447.0,1410.0C448.5,1413.3 451.6,1420.5 453.4,1423.0C455.2,1425.5 459.6,1429.9 461.7,1431.2C463.8,1432.5 468.4,1433.8 470.8,1434.0C473.2,1434.0 477.1,1432.5 481.8,1432.5C486.5,1432.6 501.8,1434.7 510.0,1435.0C518.2,1435.0 542.2,1435.0 550.0,1435.0C557.8,1434.7 569.6,1433.2 575.0,1432.5C580.4,1431.8 589.6,1429.0 595.0,1429.0C600.4,1429.0 611.0,1431.8 620.0,1432.5C629.0,1433.2 661.4,1435.0 670.0,1435.0C678.6,1435.0 688.9,1432.8 691.5,1432.5" fill="none" stroke="#000" stroke-width="4.6" stroke-linejoin="round" stroke-linecap="round"/>
<path d="M146,1442H693.6" stroke="#000" stroke-width="3.8" fill="none"/>
<path d="M147.8,1442.5V1446.8 M216,1442.5V1449.5 M284.1,1442.5V1446.8 M352.1,1442.5V1449.5 M420.2,1442.5V1446.8 M488.2,1442.5V1449.5 M556.3,1442.5V1446.8 M624.3,1442.5V1449.5 M692,1442.5V1446.8" stroke="#000" stroke-width="2.6" fill="none"/>
<text x="216.0" y="1496.3" font-size="33" text-anchor="middle">50100</text>
<text x="352.3" y="1496.3" font-size="33" text-anchor="middle">50300</text>
<text x="488.2" y="1496.3" font-size="33" text-anchor="middle">50500</text>
<text x="624.8" y="1496.3" font-size="33" text-anchor="middle">50700</text>
<text x="427.8" y="1316.8" font-size="38.4">phospho-N<tspan font-size="24.3" dx="0.9" dy="11.7">2-463</tspan></text>
<path d="M458.5,1331L435.2,1375.3M377.7,1790L345,1838.3M591.7,1779.3L545,1818.3" stroke="#000" stroke-width="3.2" fill="none"/>
<text x="268" y="1681.7" font-size="52.5">N<tspan font-size="33" dx="1.3" dy="16.6">2-185</tspan></text>
<text x="364.5" y="1774" font-size="52.5">N<tspan font-size="33" dx="1.3" dy="16.7">2-191</tspan></text>
<text x="478" y="1640" font-size="52.5">N<tspan font-size="33" dx="1.3" dy="17.3">186-463</tspan></text>
<text x="584.5" y="1767.3" font-size="52.5">N<tspan font-size="33" dx="1.3" dy="16.7">192-463</tspan></text>
<text x="837" y="1788" font-size="52.5">N<tspan font-size="33" dx="1.3" dy="16.7">41-463</tspan></text>
<text x="873.5" y="1187.1" font-size="52.5">N<tspan font-size="33" dx="1.3" dy="16.7">2-463</tspan></text>
</svg></body></html>
